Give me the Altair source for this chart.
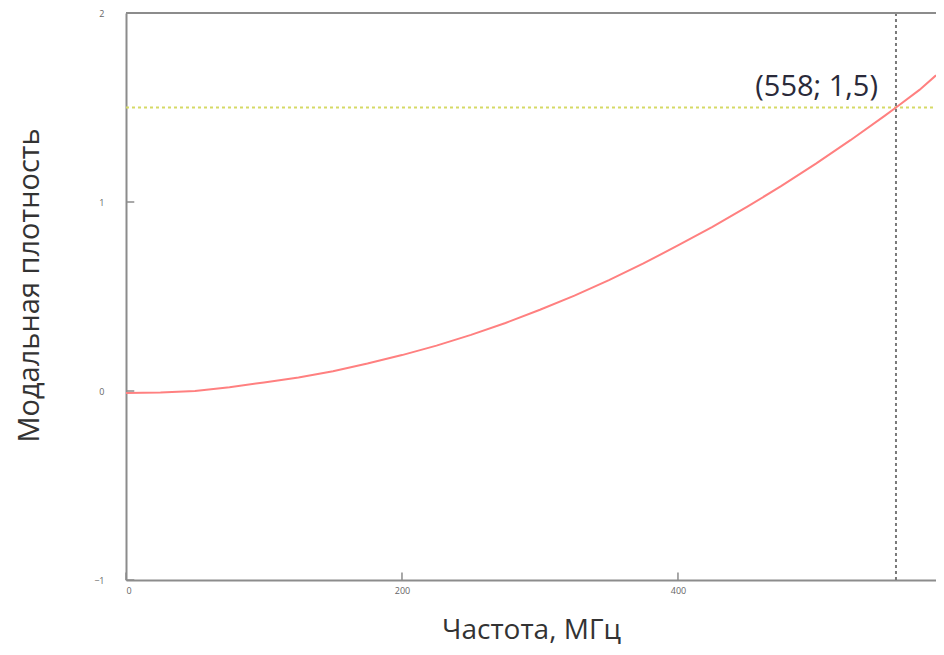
import altair as alt
import pandas as pd

# Curve
freq = [0, 25, 50, 75, 100, 125, 150, 175, 200, 225, 250, 275, 300, 325, 350,
        375, 400, 425, 450, 475, 500, 525, 550, 558, 575, 587]
dens = [-0.01, -0.008, 0.0, 0.02, 0.045, 0.072, 0.105, 0.145, 0.19, 0.24, 0.297,
        0.36, 0.43, 0.505, 0.587, 0.675, 0.77, 0.868, 0.974, 1.085, 1.203, 1.327,
        1.457, 1.5, 1.593, 1.67]

x_ticks = [0, 200, 400]
y_ticks = [-1, 0, 1, 2]
mark_x = 558
mark_y = 1.5
mark_label = "(558; 1,5)"
x_max = 587

FONT = "Open Sans"
AXIS_GREY = "#8c8c8c"

df = pd.DataFrame({"f": freq, "d": dens})

xs = alt.Scale(domain=[0, x_max], nice=False, zero=False)
ys = alt.Scale(domain=[-1, 2], nice=False, zero=False)

base = alt.Chart(df)

curve = base.mark_line(color="#ff8080", strokeWidth=2, clip=True).encode(
    x=alt.X("f:Q", scale=xs,
            axis=alt.Axis(values=x_ticks, ticks=False, domainColor=AXIS_GREY, domainWidth=2,
                          format="d",
                          labelFont=FONT, labelFontSize=9, labelColor="#666",
                          labelPadding=6, grid=False,
                          title="Частота, МГц", titleFont=FONT, titleFontSize=28,
                          titleFontWeight="normal", titleColor="#333", titlePadding=21)),
    y=alt.Y("d:Q", scale=ys,
            axis=alt.Axis(values=y_ticks, ticks=False, domainColor=AXIS_GREY, domainWidth=2,
                          format="d",
                          labelFont=FONT, labelFontSize=9, labelColor="#666",
                          labelPadding=22, grid=False,
                          labelExpr="datum.value < 0 ? '−' + abs(datum.value) : datum.label",
                          title="Модальная плотность", titleFont=FONT, titleFontSize=29,
                          titleFontWeight="normal", titleColor="#333", titlePadding=49,
                          titleY=272)),
)

top_df = pd.DataFrame({"y": [2], "x0": [0], "x1": [x_max]})
top_line = alt.Chart(top_df).mark_rule(color=AXIS_GREY, strokeWidth=2).encode(
    y=alt.Y("y:Q", scale=ys), x=alt.X("x0:Q", scale=xs), x2="x1:Q")

hline_df = pd.DataFrame({"y": [mark_y], "x0": [0], "x1": [x_max]})
hline = alt.Chart(hline_df).mark_rule(color="#d6da66", strokeWidth=2, strokeDash=[3, 3]).encode(
    y=alt.Y("y:Q", scale=ys), x=alt.X("x0:Q", scale=xs), x2="x1:Q")

vline_df = pd.DataFrame({"x": [mark_x], "y0": [-1], "y1": [2]})
vline = alt.Chart(vline_df).mark_rule(color="#7a7a7a", strokeWidth=2, strokeDash=[3, 3]).encode(
    x=alt.X("x:Q", scale=xs), y=alt.Y("y0:Q", scale=ys), y2="y1:Q")

xt_df = pd.DataFrame({"x": x_ticks, "y0": [-1] * len(x_ticks), "y1": [-0.96] * len(x_ticks)})
xt = alt.Chart(xt_df).mark_rule(color=AXIS_GREY, strokeWidth=1.5).encode(
    x=alt.X("x:Q", scale=xs), y=alt.Y("y0:Q", scale=ys), y2="y1:Q")

yt_df = pd.DataFrame({"y": y_ticks, "x0": [0] * len(y_ticks), "x1": [6] * len(y_ticks)})
yt = alt.Chart(yt_df).mark_rule(color=AXIS_GREY, strokeWidth=1.5).encode(
    y=alt.Y("y:Q", scale=ys), x=alt.X("x0:Q", scale=xs), x2="x1:Q")

lab_df = pd.DataFrame({"x": [mark_x], "y": [mark_y], "t": [mark_label]})
label = alt.Chart(lab_df).mark_text(font=FONT, fontSize=29, color="#2a2a3a",
                                    align="right", baseline="alphabetic", dx=-18, dy=-12).encode(
    x=alt.X("x:Q", scale=xs), y=alt.Y("y:Q", scale=ys), text="t:N")

chart = alt.layer(hline, vline, curve, top_line, xt, yt, label).properties(
    width=810, height=567,
    autosize=alt.AutoSizeParams(type="none"),
    padding={"left": 118, "top": 5, "right": 0, "bottom": 67},
    background="white",
).configure_view(stroke=None)

chart.save("out.html", embed_options={"renderer": "svg", "actions": False})
